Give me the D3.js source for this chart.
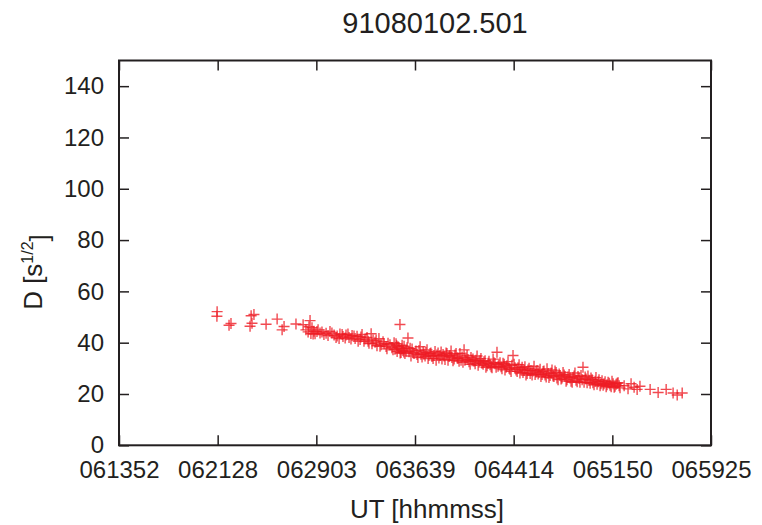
<!DOCTYPE html>
<html>
<head>
<meta charset="utf-8">
<script src="https://cdn.jsdelivr.net/npm/d3@7"></script>
<style>
  html, body { margin: 0; padding: 0; background: #fff; }
  svg { display: block; }
  text { font-family: "Liberation Sans", Arial, Helvetica, sans-serif; fill: #231f20; }
</style>
</head>
<body>
<div id="chart"></div>
<script>
// ---- data ----
const chartTitle = "91080102.501";
const xAxisTitle = "UT [hhmmss]";
const yTickValues = [0, 20, 40, 60, 80, 100, 120, 140];
const yDomain = [0, 150];
// x ticks in seconds of day, with their UT labels
const xTickValues = [22432, 22887.5, 23343, 23798.5, 24254, 24709.5, 25165];
const xTickLabels = ["061352", "062128", "062903", "063639", "064414", "065150", "065925"];

// UT (seconds of day) and D [s^1/2]
const utSeconds = [
22885,22884,22940,22949,23037,23042,23046,23055,23111,23162,23185,23194,23249,23282,
23295,23305,23309,23314,23318,23323,23328,23332,23337,23346,23351,23360,23369,23378,23388,23397,
23406,23415,23425,23434,23439,23448,23452,23462,23466,23476,23480,23489,23494,23503,23508,23517,
23522,23531,23536,23545,23549,23554,23563,23568,23577,23582,23586,23596,23600,23605,23614,23619,
23623,23632,23637,23642,23651,23656,23665,23669,23674,23683,23692,23697,23702,23706,23711,23716,
23714,23720,23725,23729,23730,23734,23739,23738,23743,23748,23747,23752,23757,23762,23766,23771,
23776,23780,23785,23789,23794,23803,23808,23812,23817,23822,23826,23831,23836,23840,23845,23849,
23854,23859,23863,23868,23872,23877,23882,23886,23891,23896,23900,23905,23909,23914,23919,23923,
23928,23933,23937,23942,23946,23951,23956,23960,23965,23969,23974,23979,23983,23988,23993,23997,
24002,24006,
24011,24016,24020,24025,24029,24034,24039,24043,24048,24053,24057,24062,24066,24071,24076,24080,
24085,24090,24094,24099,24103,24108,24113,24117,24122,24126,24131,24136,24140,24145,24150,24154,
24159,24163,24168,24173,24177,24182,24186,24191,24196,24200,24205,24210,24214,24219,24223,24228,
24233,24237,24242,24246,24251,
24256,24260,24265,24270,24274,24279,24283,24288,24293,24297,24302,24306,24311,24316,24320,24325,
24330,24334,24339,24343,24348,24353,24357,24362,24367,24371,24376,24380,24385,24390,24394,24399,
24404,24408,24413,24417,24422,24427,24431,24436,24440,24445,24450,24454,24459,24464,24468,
24473,24477,24482,24487,24491,24496,24500,24505,24510,24514,24519,24524,24528,24533,24537,24542,
24547,24551,24556,24560,24565,24570,24574,24579,24584,24588,24593,24597,24602,24607,24611,24616,
24620,24625,24630,24634,24639,24644,24648,24653,24657,24662,24667,24671,24676,24681,24685,24690,
24695,24699,24704,24708,24713,24718,24722,24727,24732,24736,24741,24745,
24764,24782,24796,24810,24824,24837,24884,24921,24958,24990,25009,25032
];
const dValues = [
52.1,50.3,46.8,47.5,46.4,50.5,47.6,51.0,47.2,49.2,45.0,46.3,47.3,47.0,
45.0,44.2,46.2,48.6,43.6,45.8,43.4,44.5,43.5,44.4,45.0,43.8,44.2,43.2,43.7,42.8,
44.4,43.8,43.0,42.0,42.6,41.6,43.4,43.2,42.4,41.8,43.0,43.4,42.0,41.4,42.8,42.6,
41.6,42.5,40.6,41.2,42.2,43.2,40.6,41.4,42.0,40.6,39.8,43.5,39.6,41.0,40.2,41.0,
38.8,41.6,38.6,39.2,40.4,39.6,38.5,37.6,39.8,39.2,38.0,37.2,40.0,37.4,39.6,36.6,
38.8,38.4,37.8,47.1,36.0,36.2,39.0,37.6,37.0,38.6,36.4,35.8,36.8,38.0,41.8,36.5,
37.8,34.8,37.5,36.2,35.8,36.8,35.4,34.2,37.0,38.4,35.5,34.4,36.4,35.6,34.8,36.2,
37.2,33.8,35.0,35.8,36.0,34.6,33.8,35.0,36.6,33.2,35.2,36.0,34.0,35.0,36.4,33.6,
35.4,34.8,33.4,36.0,35.8,33.2,34.6,35.0,36.8,34.2,33.0,33.6,35.2,35.8,34.0,33.8,
32.8,35.8,
33.2,34.4,32.4,37.2,33.2,34.0,35.0,33.4,32.6,31.6,34.2,33.0,33.6,32.8,31.8,33.2,
34.8,31.2,32.4,33.0,33.8,32.0,31.6,32.6,33.0,30.4,31.0,32.0,32.8,31.4,30.6,30.2,
33.6,32.2,31.8,30.4,36.3,30.8,31.4,32.2,30.6,29.8,32.0,31.6,29.4,30.4,31.0,32.6,
30.0,29.6,28.8,31.2,35.0,
31.6,30.2,29.4,28.8,30.2,31.4,28.2,29.6,30.4,28.4,29.2,30.6,27.4,28.0,29.4,30.0,
28.0,29.2,27.4,29.0,30.8,27.6,28.6,29.2,27.8,28.4,29.6,26.8,27.6,28.8,29.0,27.4,
26.6,29.8,28.0,26.4,27.2,28.2,29.4,27.0,26.8,29.0,28.4,26.2,25.6,27.8,27.2,
25.8,26.2,28.4,27.4,26.8,25.0,25.6,26.6,27.6,26.2,25.0,24.6,26.4,27.0,28.2,25.4,
24.8,26.8,26.0,24.6,27.2,25.6,30.4,24.6,26.6,25.8,24.4,27.0,25.4,24.2,26.2,25.6,
24.4,23.6,25.0,26.4,23.8,24.8,25.6,23.2,24.0,25.2,23.4,24.0,24.8,22.8,23.6,24.6,
24.2,23.4,22.8,25.0,24.0,22.6,23.0,23.8,24.2,24.4,23.2,22.4,
23.2,22.0,24.0,22.6,21.8,23.0,21.8,20.6,21.8,20.4,19.6,20.4
];

// ---- layout ----
const W = 762, H = 525;
const margin = { top: 60.5, right: 51, bottom: 79.7, left: 119 };
const iw = W - margin.left - margin.right;
const ih = H - margin.top - margin.bottom;
const ink = "#231f20";
const markColor = "#ed1c24";

const svg = d3.select("#chart").append("svg").attr("width", W).attr("height", H);
const g = svg.append("g").attr("transform", `translate(${margin.left},${margin.top})`);

const x = d3.scaleLinear().domain([xTickValues[0], xTickValues[xTickValues.length - 1]]).range([0, iw]);
const y = d3.scaleLinear().domain(yDomain).range([ih, 0]);

// points
const pts = utSeconds.map((t, i) => ({ t, d: dValues[i] }));
const arm = 5.5;
g.append("g").selectAll("path").data(pts).join("path")
  .attr("d", p => {
    const cx = x(p.t), cy = y(p.d);
    return `M${cx - arm},${cy}H${cx + arm}M${cx},${cy - arm}V${cy + arm}`;
  })
  .attr("stroke", markColor).attr("stroke-width", 1.4).attr("stroke-opacity", 0.8).attr("fill", "none");

// axes (ticks inward on all sides)
const tickLen = 10;
const fmtX = (v) => xTickLabels[xTickValues.indexOf(v)];
const axB = g.append("g").attr("transform", `translate(0,${ih})`)
  .call(d3.axisBottom(x).tickValues(xTickValues).tickFormat(fmtX).tickSizeInner(-tickLen).tickSizeOuter(0).tickPadding(15));
const axT = g.append("g")
  .call(d3.axisTop(x).tickValues(xTickValues).tickFormat("").tickSizeInner(-tickLen).tickSizeOuter(0));
const axL = g.append("g")
  .call(d3.axisLeft(y).tickValues(yTickValues).tickSizeInner(-tickLen).tickSizeOuter(0).tickPadding(15));
const axR = g.append("g").attr("transform", `translate(${iw},0)`)
  .call(d3.axisRight(y).tickValues(yTickValues).tickFormat("").tickSizeInner(-tickLen).tickSizeOuter(0));

[axB, axT, axL, axR].forEach(a => {
  a.select(".domain").remove();
  a.selectAll(".tick line").attr("stroke", ink).attr("stroke-width", 1.5);
  a.selectAll("text").attr("fill", ink).style("font-size", "24px")
    .style("font-family", '"Liberation Sans", Arial, Helvetica, sans-serif');
});
axL.selectAll("text").attr("dy", "0.32em");
axB.selectAll("text").attr("dy", "0.72em");

// frame
g.append("rect").attr("x", 0).attr("y", 0).attr("width", iw).attr("height", ih)
  .attr("fill", "none").attr("stroke", ink).attr("stroke-width", 2);

// title
svg.append("text").attr("x", 435).attr("y", 33).attr("text-anchor", "middle")
  .style("font-size", "29px").text(chartTitle);

// x axis title
svg.append("text").attr("x", 427).attr("y", 518).attr("text-anchor", "middle")
  .style("font-size", "26px").text(xAxisTitle);

// y axis title with superscript
const yt = svg.append("text").attr("transform", "translate(42,272) rotate(-90)")
  .attr("text-anchor", "middle").style("font-size", "26px");
yt.append("tspan").text("D [s");
yt.append("tspan").attr("dy", "-0.55em").style("font-size", "16px").text("1/2");
yt.append("tspan").attr("dy", "0.55em").text("]");
</script>
</body>
</html>
